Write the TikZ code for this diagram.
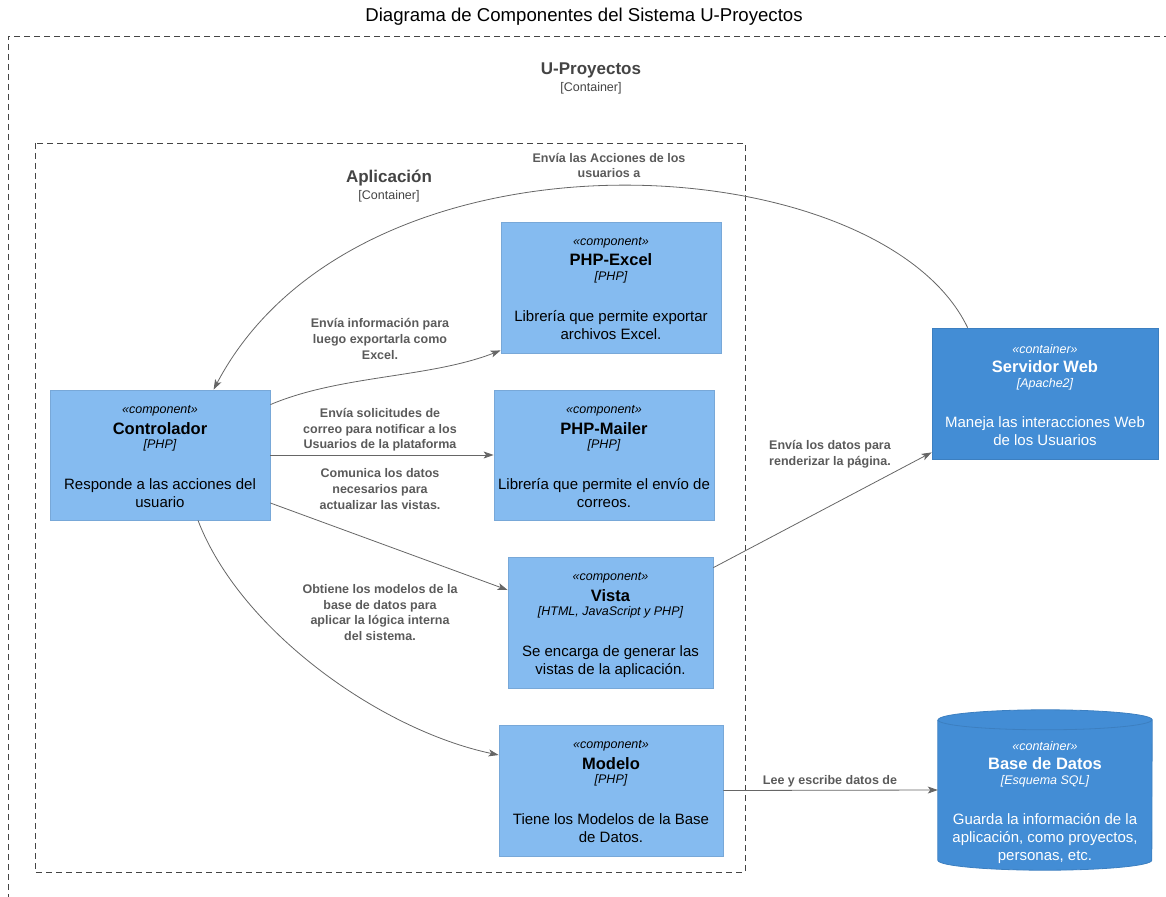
\documentclass[tikz,border=0pt]{standalone}
\usepackage{fontspec}
\setmainfont{Liberation Sans}
\usetikzlibrary{arrows.meta,calc}

\definecolor{compfill}{HTML}{85BBF0}
\definecolor{compline}{HTML}{78A8D8}
\definecolor{contfill}{HTML}{438DD5}
\definecolor{contline}{HTML}{3C7FC0}
\definecolor{edgecol}{HTML}{666666}
\definecolor{edgetext}{HTML}{5A5A5A}
\definecolor{boundcol}{HTML}{444444}

\newcommand\dgStereo{\fontsize{12.5}{15}\selectfont\itshape}
\newcommand\dgName{\fontsize{16.5}{19}\selectfont\bfseries}
\newcommand\dgTech{\fontsize{12.5}{15}\selectfont\itshape}
\newcommand\dgDesc{\fontsize{15}{18}\selectfont}
\newcommand\dgLabel{\fontsize{12.5}{15.7}\selectfont\bfseries}

% stereotype, name, technology and description stacked in a box
% #1 box node, #2 extra drop from its top, #3 text style, #4..#7 texts
\newcommand\boxtext[7]{%
  \node[#3, font=\dgStereo] (#1-st) at ($(#1.north)+(0,{#2+21})$) {«#4»};
  \node[#3, font=\dgName]   (#1-nm) at ($(#1.north)+(0,{#2+38.5})$) {#5};
  \node[#3, font=\dgTech]   (#1-tc) at ($(#1.north)+(0,{#2+56})$) {[#6]};
  \node[#3, font=\dgDesc, anchor=north] (#1-ds) at ($(#1.north)+(0,{#2+88.5})$) {#7};
}

\begin{document}
\begin{tikzpicture}[x=1pt, y=-1pt,
  comp/.style={draw=compline, fill=compfill, line width=0.8pt, inner sep=0pt},
  cont/.style={draw=contline, fill=contfill, line width=0.8pt, inner sep=0pt},
  comptxt/.style={inner sep=0pt, align=center, text=black},
  conttxt/.style={inner sep=0pt, align=center, text=white},
  boundary/.style={draw=boundcol, line width=0.7pt, dash pattern=on 6pt off 4pt},
  bname/.style={inner sep=0pt, text=boundcol, font=\fontsize{17}{20}\selectfont\bfseries},
  btype/.style={inner sep=0pt, text=boundcol, font=\fontsize{12.5}{15}\selectfont},
  arr/.style={draw=edgecol, line width=0.8pt, -{Stealth[length=10pt, width=7pt, inset=2.5pt]}},
  elabel/.style={inner sep=0pt, align=center, text=edgetext, font=\dgLabel}
]
\useasboundingbox (0,0) rectangle (1166,896);

% title
\node[inner sep=0pt, font=\fontsize{18.6}{21}\selectfont] (title) at (584,17) {Diagrama de Componentes del Sistema U-Proyectos};

% system boundary (runs off the page on the right and bottom)
\draw[boundary] (1170,36) -- (8,36) -- (8,900);
\node[bname] (sysname) at (591,70) {U-Proyectos};
\node[btype] (systype) at (591,88) {[Container]};

% application boundary
\draw[boundary] (35,143) rectangle (745,872);
\node[bname] (appname) at (389,178) {Aplicación};
\node[btype] (apptype) at (389,196) {[Container]};

% components
\node[comp, minimum width=220pt, minimum height=130pt] (ctl) at (160,455) {};
\node[comp, minimum width=220pt, minimum height=131pt] (xls) at (611,287.5) {};
\node[comp, minimum width=220pt, minimum height=130pt] (mail) at (604,455) {};
\node[comp, minimum width=205pt, minimum height=131pt] (vista) at (610.5,622.5) {};
\node[comp, minimum width=224pt, minimum height=131pt] (modelo) at (611,790.5) {};

% containers
\node[cont, minimum width=226pt, minimum height=131pt] (srv) at (1045,393.5) {};
\node[inner sep=0pt, minimum width=214pt, minimum height=160pt] (db) at (1045,790) {};
\fill[contfill] ($(db.north west)+(0,10)$) -- ($(db.south west)+(0,-10)$)
  arc[start angle=180, end angle=360, x radius=107pt, y radius=10pt]
  -- ($(db.north east)+(0,10)$)
  arc[start angle=0, end angle=180, x radius=107pt, y radius=10pt] -- cycle;
\draw[contline, line width=0.8pt] ($(db.north west)+(0,10)$) -- ($(db.south west)+(0,-10)$)
  arc[start angle=180, end angle=360, x radius=107pt, y radius=10pt]
  -- ($(db.north east)+(0,10)$)
  arc[start angle=0, end angle=180, x radius=107pt, y radius=10pt];
\draw[contline, line width=0.8pt] ($(db.north west)+(0,10)$)
  arc[start angle=180, end angle=360, x radius=107pt, y radius=10pt];

\boxtext{ctl}{0}{comptxt}{component}{Controlador}{PHP}{Responde a las acciones del\\usuario}
\boxtext{xls}{0}{comptxt}{component}{PHP-Excel}{PHP}{Librería que permite exportar\\archivos Excel.}
\boxtext{mail}{0}{comptxt}{component}{PHP-Mailer}{PHP}{Librería que permite el envío de\\correos.}
\boxtext{vista}{0}{comptxt}{component}{Vista}{HTML, JavaScript y PHP}{Se encarga de generar las\\vistas de la aplicación.}
\boxtext{modelo}{0}{comptxt}{component}{Modelo}{PHP}{Tiene los Modelos de la Base\\de Datos.}
\boxtext{srv}{0.5}{conttxt}{container}{Servidor Web}{Apache2}{Maneja las interacciones Web\\de los Usuarios}
\boxtext{db}{15}{conttxt}{container}{Base de Datos}{Esquema SQL}{Guarda la información de la\\aplicación, como proyectos,\\personas, etc.}

% relations
\draw[arr] ([xshift=36pt]srv.north west) .. controls (880,145) and (360,112) .. ([xshift=164pt]ctl.north west);
\draw[arr] ([yshift=-15pt]ctl.north east) .. controls (340,375) and (430,378) .. ([yshift=3pt]xls.south west);
\draw[arr] (ctl.east) -- (mail.west);
\draw[arr] ([yshift=-48pt]ctl.east) -- ([yshift=32.5pt]vista.west);
\draw[arr] ([xshift=38pt]ctl.south) .. controls (240,630) and (380,730) .. ([yshift=35.5pt]modelo.west);
\draw[arr] ([yshift=-11pt]vista.north east) -- ([yshift=7pt]srv.south west);
\draw[arr] (modelo.east) -- (db.west);

% relation labels
\node[elabel] (l-srv) at (609,165.5) {Envía las Acciones de los\\usuarios a};
\node[elabel] (l-xls) at (380,339) {Envía información para\\luego exportarla como\\Excel.};
\node[elabel] (l-mail) at (380,430) {Envía solicitudes de\\correo para notificar a los\\Usuarios de la plataforma};
\node[elabel] (l-vista) at (380,489) {Comunica los datos\\necesarios para\\actualizar las vistas.};
\node[elabel] (l-mod) at (380,612.5) {Obtiene los modelos de la\\base de datos para\\aplicar la lógica interna\\del sistema.};
\node[elabel] (l-web) at (830,454) {Envía los datos para\\renderizar la página.};
\node[elabel] (l-db) at (830,781) {Lee y escribe datos de};
\end{tikzpicture}
\end{document}
